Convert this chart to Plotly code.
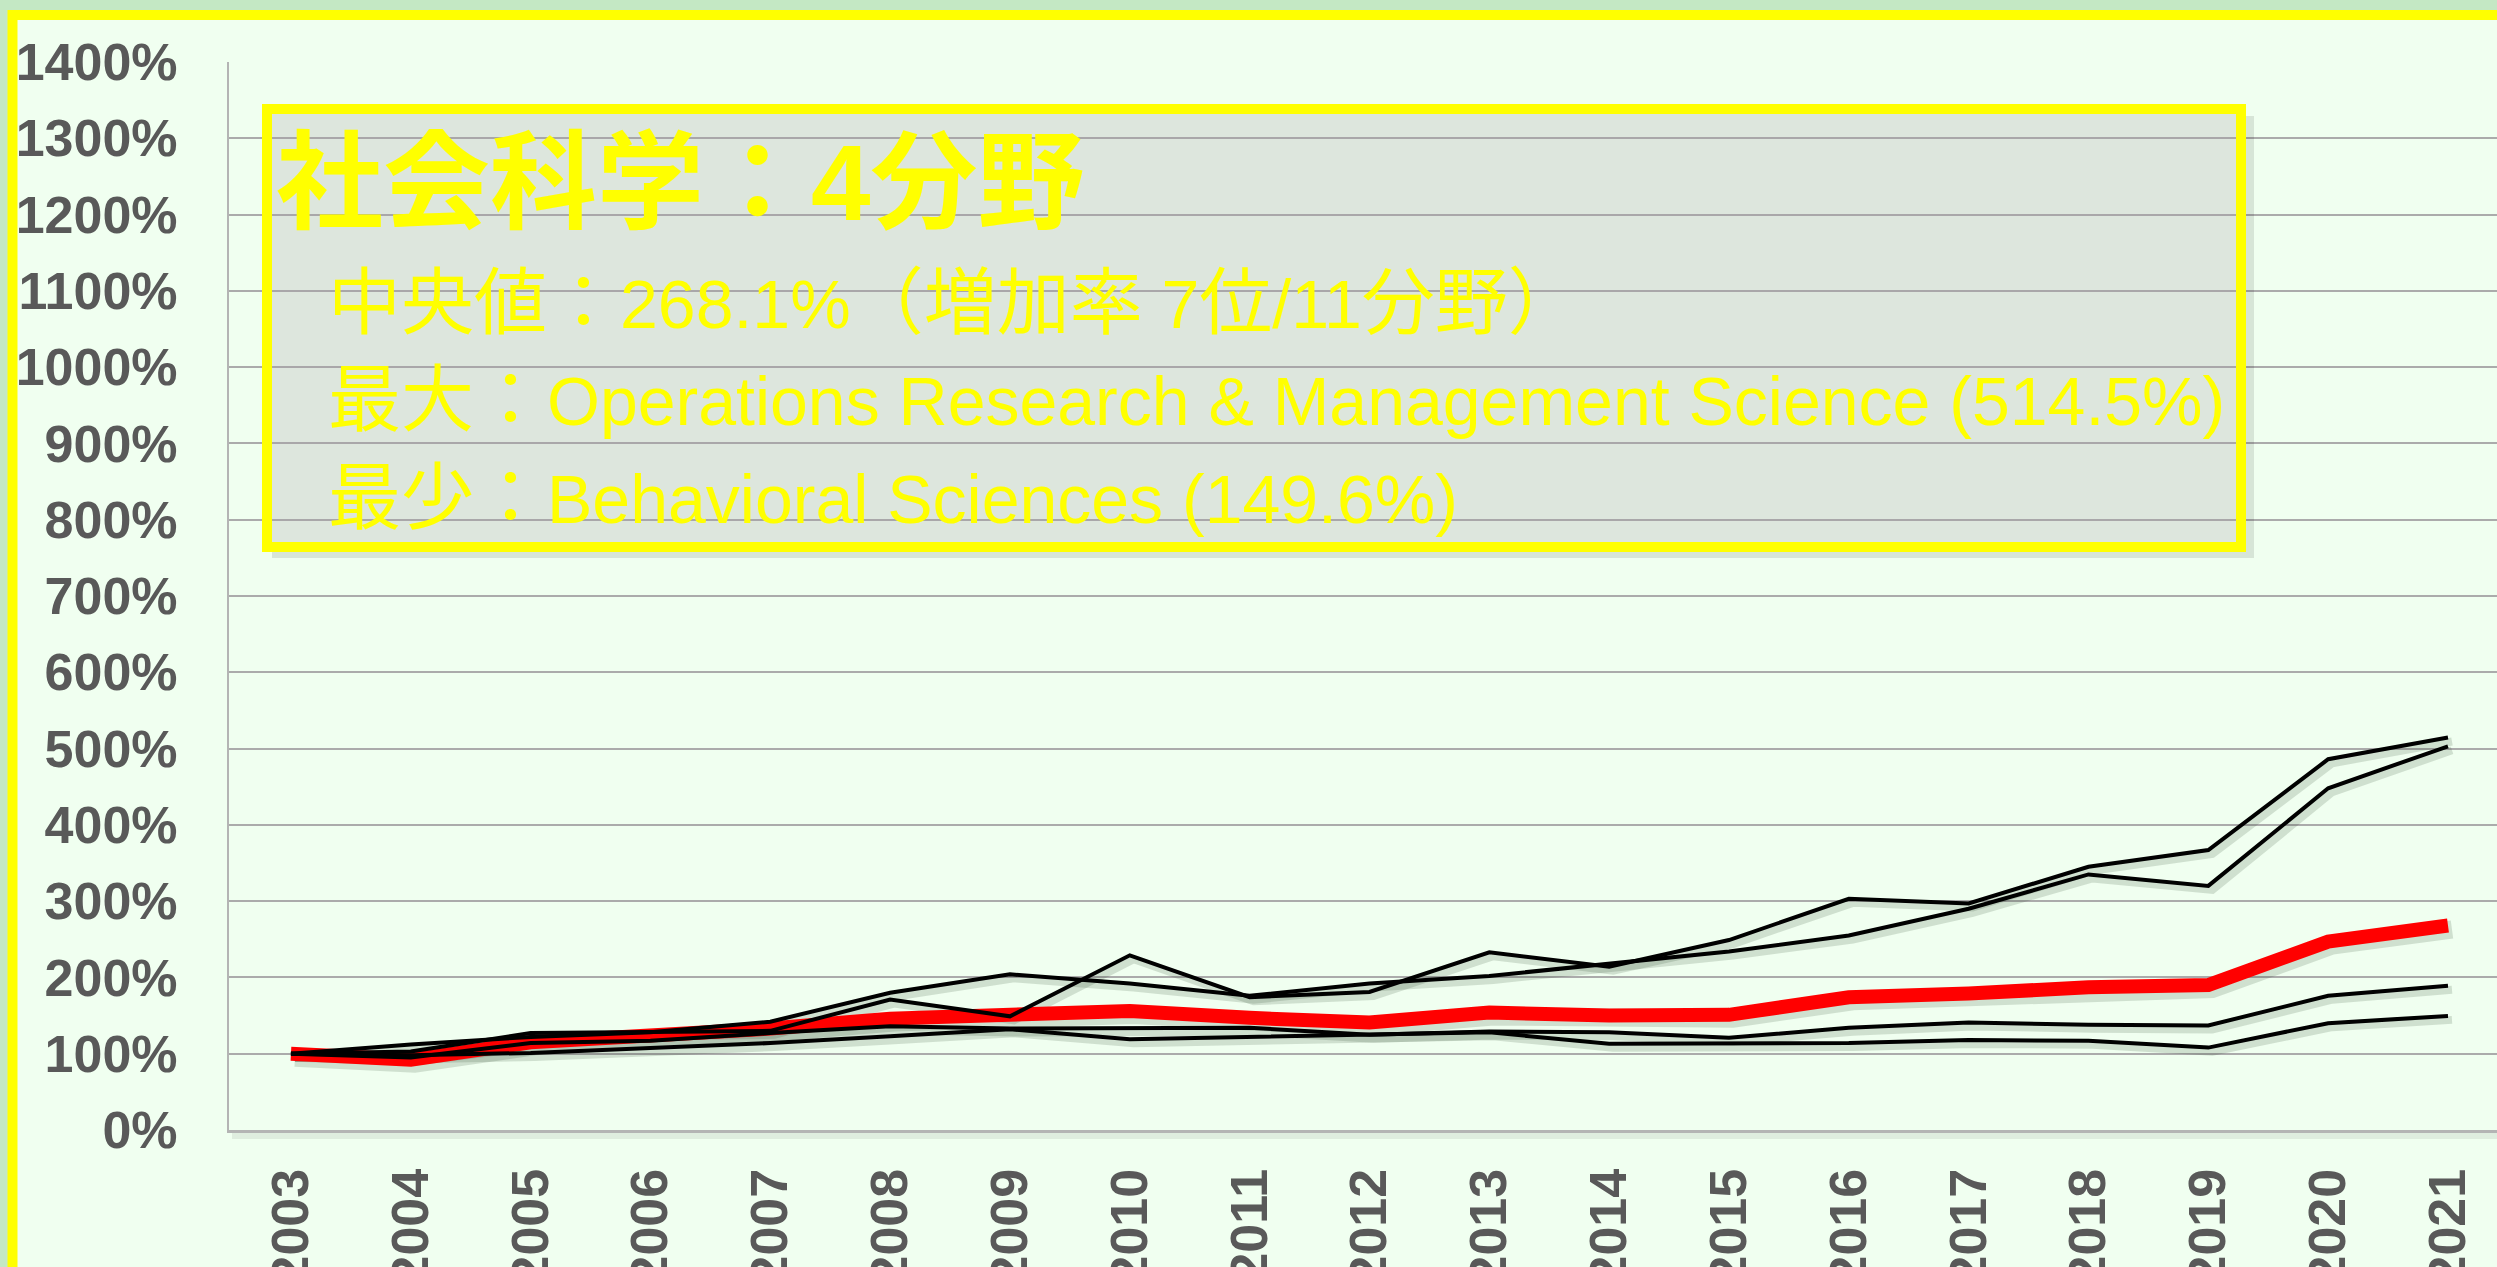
import re
import plotly.graph_objects as go

# ---------------- data ----------------
years = [str(y) for y in range(2003, 2022)]

median_vals = [100, 92, 115, 123, 133, 146, 150, 156, 147, 141, 154, 150, 151, 174, 179, 187, 190, 247, 268.1]
field_p = [100, 103, 127, 128, 130, 171, 149, 229, 174, 181, 233, 214, 249, 303, 297, 345, 367, 486, 514.5]
field_q = [100, 112, 122, 128, 142, 180, 204, 192, 176, 192, 202, 218, 234, 255, 290, 335, 320, 448, 503]
field_s = [100, 95, 114, 117, 127, 136, 133, 134, 134, 125, 129, 128, 121, 134, 141, 138, 137, 176, 189]
field_r = [100, 98, 101, 107, 114, 123, 132, 119, 122, 125, 128, 113, 114, 114, 118, 117, 108, 140, 149.6]

title_text = "社会科学：4分野"
info_lines = [
    "中央値：268.1%（増加率 7位/11分野）",
    "最大：Operations Research & Management Science (514.5%)",
    "最少：Behavioral Sciences (149.6%)",
]

# ---------------- layout geometry (pixels) ----------------
W, H = 2497, 1267
PL, PR, PT, PB = 229, 2497, 62, 1130
PW, PH = PR - PL, PB - PT
X_RANGE = [-0.517, 18.409]
Y_RANGE = [0, 1400]


def fx(px):
    return (px - PL) / PW


def fy(py):
    return (PB - py) / PH


# shadow offset (pixels) expressed as an axis-range shift
SH_PX = 4
sh_dx = SH_PX * (X_RANGE[1] - X_RANGE[0]) / PW
sh_dy = SH_PX * (Y_RANGE[1] - Y_RANGE[0]) / PH

FONT = "Liberation Sans, Arial, Noto Sans CJK JP, sans-serif"
YELLOW = "#ffff00"
CJK_SIZE = 73


def cjk_spans(s):
    return re.sub(r"([\u3000-\u9fff\uff00-\uffef]+)",
                  lambda m: '<span style="font-size:%dpx">%s</span>' % (CJK_SIZE, m.group(1)), s)


series = [(median_vals, "#ff0000", 14), (field_r, "#000000", 4), (field_s, "#000000", 4),
          (field_q, "#000000", 4), (field_p, "#000000", 4)]

fig = go.Figure()

# shadows: base axes with shifted ranges (drawn first, below)
for vals, _, w in series:
    fig.add_trace(go.Scatter(x=years, y=vals, mode="lines", xaxis="x", yaxis="y",
                             line=dict(color="rgba(40,60,40,0.16)", width=w + 4),
                             hoverinfo="skip", showlegend=False))
# main lines: overlay axes with the true ranges (these carry ticks and grid)
for vals, c, w in series:
    fig.add_trace(go.Scatter(x=years, y=vals, mode="lines", xaxis="x2", yaxis="y2",
                             line=dict(color=c, width=w), showlegend=False))

shapes = [
    # outer frame
    dict(type="rect", xref="paper", yref="paper", layer="below",
         x0=fx(12.5), x1=fx(2700), y0=fy(1500), y1=fy(15),
         fillcolor="#f0fff0", line=dict(color=YELLOW, width=10)),
    # plot-area bottom shadow
    dict(type="rect", xref="paper", yref="paper", layer="below",
         x0=fx(232), x1=fx(2600), y0=fy(1139), y1=fy(1131),
         fillcolor="rgba(0,0,0,0.07)", line=dict(width=0)),
    # info box shadow (right and bottom strips)
    dict(type="rect", xref="paper", yref="paper", layer="above",
         x0=fx(2246), x1=fx(2254), y0=fy(558), y1=fy(116),
         fillcolor="rgba(0,0,0,0.10)", line=dict(width=0)),
    dict(type="rect", xref="paper", yref="paper", layer="above",
         x0=fx(272), x1=fx(2246), y0=fy(558), y1=fy(552),
         fillcolor="rgba(0,0,0,0.10)", line=dict(width=0)),
    # info box
    dict(type="rect", xref="paper", yref="paper", layer="above",
         x0=fx(267), x1=fx(2241), y0=fy(547), y1=fy(109),
         fillcolor="rgba(164,155,164,0.25)", line=dict(color=YELLOW, width=10)),
]

annotations = [
    dict(xref="paper", yref="paper", x=fx(274), y=fy(183), xanchor="left", yanchor="middle",
         text=title_text, showarrow=False,
         font=dict(family=FONT, size=107, color=YELLOW, weight="bold")),
]
for i, t in enumerate(info_lines):
    annotations.append(dict(xref="paper", yref="paper", x=fx(326), y=fy(302 + 97.5 * i),
                            xanchor="left", yanchor="middle", text=cjk_spans(t), showarrow=False,
                            font=dict(family=FONT, size=68, color=YELLOW)))

tick_font = dict(family=FONT, size=52, color="#595959", weight="bold")

fig.update_layout(
    width=W, height=H,
    margin=dict(l=PL, r=W - PR, t=PT, b=H - PB, pad=0, autoexpand=False),
    paper_bgcolor="#c4e8c4",
    plot_bgcolor="rgba(0,0,0,0)",
    shapes=shapes,
    annotations=annotations,
    showlegend=False,
    xaxis=dict(type="category", range=[X_RANGE[0] - sh_dx, X_RANGE[1] - sh_dx],
               showgrid=False, showline=False, showticklabels=False, ticks="",
               zeroline=False, automargin=False, fixedrange=True),
    yaxis=dict(range=[Y_RANGE[0] + sh_dy, Y_RANGE[1] + sh_dy],
               showgrid=False, showline=False, showticklabels=False, ticks="",
               zeroline=False, automargin=False, fixedrange=True),
    xaxis2=dict(type="category", overlaying="x", side="bottom", range=X_RANGE, showgrid=False,
                showline=True, linecolor="#b4b4b4", linewidth=3,
                ticks="", tickangle=-90, ticklabelstandoff=15, automargin=False,
                tickfont=tick_font, zeroline=False, fixedrange=True),
    yaxis2=dict(overlaying="y", side="left", range=Y_RANGE, dtick=100, ticksuffix="%",
                showgrid=True, gridcolor="#ababab", gridwidth=2,
                showline=True, linecolor="#b4b4b4", linewidth=2,
                ticks="", ticklabelstandoff=39, automargin=False,
                tickfont=tick_font, zeroline=False, fixedrange=True),
)

fig.write_html("out.html", config={"displayModeBar": False},
               post_script="document.body.style.margin='0';document.body.style.overflow='hidden';")
